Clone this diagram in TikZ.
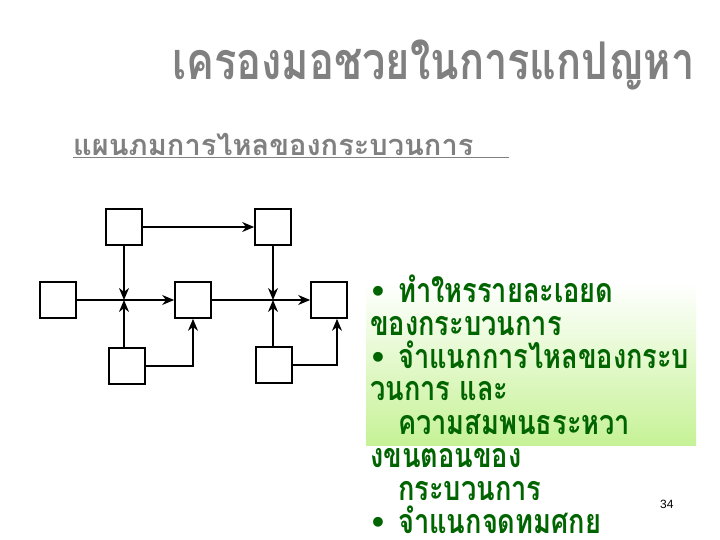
\documentclass[tikz,border=0pt]{standalone}
\usepackage{fontspec}
\setmainfont{Liberation Sans}
\newfontfamily\thaifont[Script=Thai, FakeStretch=0.8]{Loma}
\newfontfamily\thaiwide[Script=Thai]{Loma}
\newfontfamily\bulletfont{Liberation Sans}
\usetikzlibrary{calc,arrows.meta}

\definecolor{titlegray}{RGB}{128,128,128}
\definecolor{itemgreen}{RGB}{0,100,0}
\definecolor{panelgreen}{RGB}{198,242,150}
\newcommand{\bul}{\makebox[26pt][l]{\bulletfont\textbullet}}

\begin{document}
\begin{tikzpicture}[x=1pt, y=-1pt,
box/.style={draw, line width=1.7pt, minimum size=36pt, inner sep=0pt},
flow/.style={-{Stealth[length=12pt, width=10pt]}, line width=1.2pt},
item/.style={anchor=base west, inner sep=0pt, text=itemgreen,
	font=\thaifont\bfseries\fontsize{34}{38}\selectfont}]
\useasboundingbox (0,0) rectangle (720,540);

% headings
\node[anchor=base west, inner sep=0pt, text=titlegray,
	font=\thaifont\bfseries\fontsize{52}{58}\selectfont] (title) at (172,80) {เครองมอชวยในการแกปญหา};
\node[anchor=base west, inner sep=0pt, text=titlegray,
	font=\thaiwide\bfseries\fontsize{29}{34}\selectfont] (subtitle) at (73,156) {\underline{แผนภมการไหลของกระบวนการ\hspace{36pt}}};

% flow chart
\node[box] (A) at (124,227) {};
\node[box] (B) at (273,227) {};
\node[box] (C) at (58,300) {};
\node[box] (D) at (193,300) {};
\node[box] (E) at (329,300) {};
\node[box] (F) at (127,366) {};
\node[box] (G) at (274,365) {};
\coordinate (J1) at (124,300);
\coordinate (J2) at (273,300);

\draw[flow] (A) -- (B);
\draw[flow] (A) -- (J1);
\draw[flow] (F.north -| J1) -- (J1);
\draw[flow] (C) -- (D);
\draw[flow] (F.east) -| (D.south);
\draw[flow] (B) -- (J2);
\draw[flow] (G.north -| J2) -- (J2);
\draw[flow] (D) -- (E);
\draw[flow] (G.east) -| ([xshift=8pt]E.south);

% notes
\shade[top color=white, bottom color=panelgreen] (366,283) rectangle (696,445);
\node[item] (l1) at (372,302) {\bul ทำใหรรายละเอยด};
\node[item] (l2) at (370,335) {ของกระบวนการ};
\node[item] (l3) at (372,368) {\bul จำแนกการไหลของกระบ};
\node[item] (l4) at (370,400) {วนการ และ};
\node[item] (l5) at (398,434) {ความสมพนธระหวา};
\node[item] (l6) at (370,467) {งขนตอนของ};
\node[item] (l7) at (398,500) {กระบวนการ};
\node[item] (l8) at (372,533) {\bul จำแนกจดทมศกย};

\node[anchor=base west, inner sep=0pt, font=\fontsize{12}{14}\selectfont] (page) at (660,508) {34};
\end{tikzpicture}
\end{document}
